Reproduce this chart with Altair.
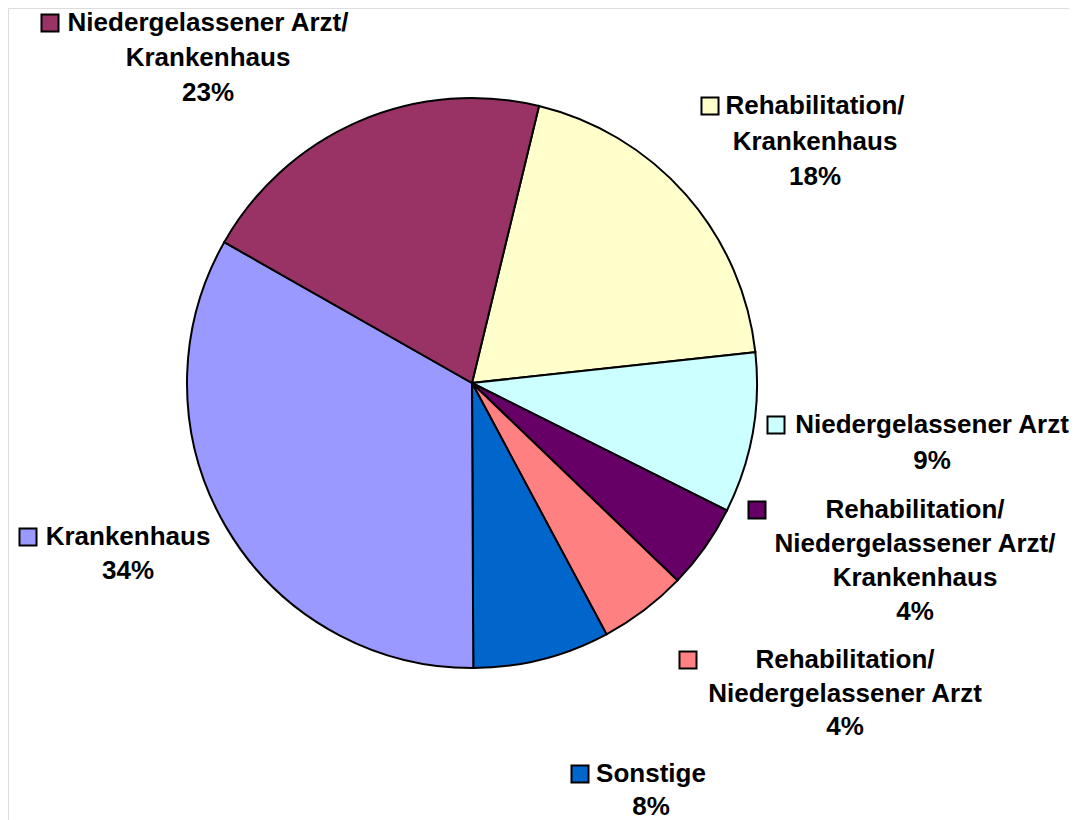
import math
import altair as alt
import pandas as pd

# ---- data ----
categories = [
    "Rehabilitation/Krankenhaus",
    "Niedergelassener Arzt",
    "Rehabilitation/Niedergelassener Arzt/Krankenhaus",
    "Rehabilitation/Niedergelassener Arzt",
    "Sonstige",
    "Krankenhaus",
    "Niedergelassener Arzt/Krankenhaus",
]
shares = [19.5, 9.1, 4.8, 5.0, 7.75, 33.3, 20.55]
pct_labels = ["18%", "9%", "4%", "4%", "8%", "34%", "23%"]
label_lines = [
    ["Rehabilitation/", "Krankenhaus"],
    ["Niedergelassener Arzt"],
    ["Rehabilitation/", "Niedergelassener Arzt/", "Krankenhaus"],
    ["Rehabilitation/", "Niedergelassener Arzt"],
    ["Sonstige"],
    ["Krankenhaus"],
    ["Niedergelassener Arzt/", "Krankenhaus"],
]
colors = ["#FFFFCC", "#CCFFFF", "#660066", "#FF8080", "#0066CC", "#9999FF", "#993366"]

# ---- layout (pixels inside the chart) ----
OFF = 8
CX, CY, R = 472 - OFF, 383 - OFF, 285
START = math.radians(13.6)
FONT = "Liberation Sans, Arial, sans-serif"
FS = 26
label_cx = [815, 932, 915, 845, 651, 128, 208]
label_y = [106, 425, 510, 660, 774, 537, 23]
label_lh = [35.5, 36, 34, 33.5, 32.5, 34, 35]
square_x = [710, 776, 757, 688, 580, 28, 50]

pie_df = pd.DataFrame({"cat": categories, "share": shares, "idx": list(range(len(categories)))})

rows = []
for i, cat in enumerate(categories):
    lines = label_lines[i] + [pct_labels[i]]
    for j, t in enumerate(lines):
        rows.append({"cat": cat, "text": t, "lx": label_cx[i] - OFF, "ly": label_y[i] - OFF + j * label_lh[i]})
text_df = pd.DataFrame(rows)
sq_df = pd.DataFrame({"cat": categories, "sx": [v - OFF for v in square_x], "sy": [v - OFF for v in label_y]})

color_scale = alt.Scale(domain=categories, range=colors)

pie = alt.Chart(pie_df).mark_arc(outerRadius=R, stroke="black", strokeWidth=2).encode(
    theta=alt.Theta("share:Q", stack=True, scale=alt.Scale(range=[START, START + 2 * math.pi])),
    order=alt.Order("idx:Q"),
    color=alt.Color("cat:N", scale=color_scale, legend=None),
    x=alt.value(CX),
    y=alt.value(CY),
)

texts = alt.Chart(text_df).mark_text(
    font=FONT, fontSize=FS, fontWeight="bold", color="black", align="center", baseline="middle"
).encode(
    x=alt.X("lx:Q", scale=None, axis=None),
    y=alt.Y("ly:Q", scale=None, axis=None),
    text="text:N",
)

squares = alt.Chart(sq_df).mark_square(size=290, stroke="black", strokeWidth=2, opacity=1, filled=True).encode(
    x=alt.X("sx:Q", scale=None, axis=None),
    y=alt.Y("sy:Q", scale=None, axis=None),
    fill=alt.Fill("cat:N", scale=color_scale, legend=None),
)

chart = alt.layer(pie, texts, squares).properties(
    width=1061, height=812, padding=0, autosize=alt.AutoSizeParams(type="none")
).configure_view(strokeWidth=0, stroke="transparent").configure(background="white")

chart.save("out.html", embed_options={"renderer": "svg", "actions": False})
